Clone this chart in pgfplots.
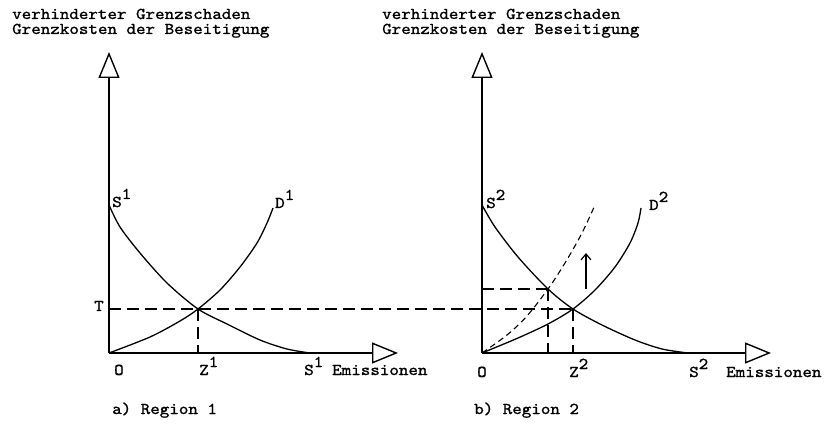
\documentclass[border=0pt]{standalone}
\usepackage{pgfplots}
\pgfplotsset{compat=1.18}
\usepackage{fontspec}
\newfontfamily\tw{lmmono10-regular.otf}[FakeStretch=1.1, FakeBold=1.2]
\usetikzlibrary{arrows.meta}

% superscript index as in the typewritten original
\newcommand{\idx}[1]{\raisebox{8pt}{#1}}

\pgfplotsset{
  panel/.style={
    scale only axis,
    width=289pt, height=301pt,
    xmin=0, xmax=289, ymin=0, ymax=301,
    axis lines=left,
    xtick=\empty, ytick=\empty,
    clip=false,
    axis line style={line width=1.4pt, -{Triangle[open,length=26pt,width=21pt]}},
  },
  curve/.style={black, line width=1.3pt, smooth, no markers},
  guide/.style={black, line width=1.2pt, dash pattern=on 12pt off 6pt, no markers},
}

\begin{document}
\begin{tikzpicture}[every node/.style={font=\tw\fontsize{16.5}{15}\selectfont, inner sep=0pt, anchor=base west}]
\path[use as bounding box] (0,0) rectangle (824pt,423pt);

% a) Region 1
\begin{axis}[panel, at={(109pt,70pt)}, anchor=south west]
\addplot[curve] coordinates {(0,148) (11,126) (31,100) (58,70) (89,44) (118,29) (151,13) (178,4) (201,0)};
\addplot[curve] coordinates {(0,0) (41,16) (71,32) (89,44) (111,63) (131,86) (148,110) (158,130) (164,145)};
\addplot[guide] coordinates {(0,44) (464,44)};
\addplot[guide] coordinates {(89,44) (89,0)};
\end{axis}

% b) Region 2
\begin{axis}[panel, at={(482pt,70pt)}, anchor=south west]
\addplot[curve] coordinates {(0,148) (13,126) (36,96) (66,64) (91,44) (120,28) (153,13) (180,4) (206,0)};
\addplot[curve] coordinates {(0,0) (36,15) (66,29) (91,44) (113,63) (133,86) (148,110) (156,130) (159,145)};
\addplot[black, line width=1.1pt, dash pattern=on 6pt off 4pt, smooth, no markers]
  coordinates {(0,0) (25,18) (45,37) (66,64) (83,90) (100,120) (113,148)};
\addplot[guide] coordinates {(0,64) (66,64)};
\addplot[guide] coordinates {(66,64) (66,0)};
\addplot[guide] coordinates {(91,44) (91,0)};
\addplot[black, line width=1.2pt, -{Straight Barb[length=6pt,width=10pt]}] coordinates {(104,64) (104,100)};
\end{axis}

% titles
\node at (12pt,404pt) {\begin{tabular}[t]{@{}l@{}}verhinderter Grenzschaden\\Grenzkosten der Beseitigung\end{tabular}};
\node at (382pt,404pt) {\begin{tabular}[t]{@{}l@{}}verhinderter Grenzschaden\\Grenzkosten der Beseitigung\end{tabular}};

% labels, panel a
\node at (94pt,112pt) {T};
\node at (112pt,216pt) {S\idx{1}};
\node at (275pt,215pt) {D\idx{1}};
\node at (114pt,48pt) {O};
\node at (199pt,48pt) {Z\idx{1}};
\node at (304pt,48pt) {S\idx{1}};
\node at (332pt,48pt) {Emissionen};
\node at (112pt,9pt) {a) Region 1};

% labels, panel b
\node at (486pt,215pt) {S\idx{2}};
\node at (649pt,213pt) {D\idx{2}};
\node at (477pt,46pt) {O};
\node at (569pt,46pt) {Z\idx{2}};
\node at (689pt,46pt) {S\idx{2}};
\node at (726pt,46pt) {Emissionen};
\node at (474pt,9pt) {b) Region 2};
\end{tikzpicture}
\end{document}
